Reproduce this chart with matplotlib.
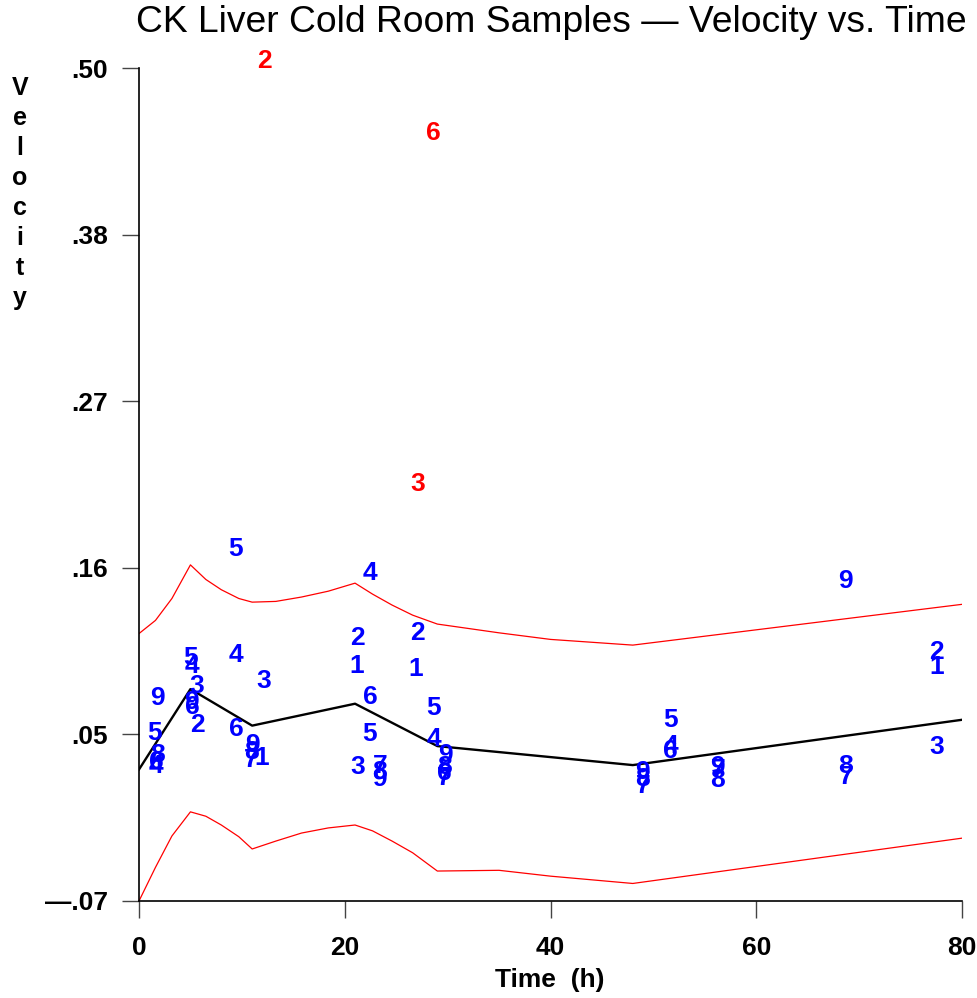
import matplotlib
matplotlib.use("Agg")
import matplotlib.pyplot as plt
import numpy as np

plt.rcParams["font.family"] = ["Liberation Sans", "DejaVu Sans"]

title = "CK Liver Cold Room Samples \u2014 Velocity vs. Time"
x_label = "Time  (h)"
y_label = "Velocity"
x_ticks = [0, 20, 40, 60, 80]
y_tick_labels = ["\u2014.07", ".05", ".16", ".27", ".38", ".50"]
y_min, y_max = -0.07, 0.50

# mean curve
mean_time = [0, 5, 11, 21, 29, 48, 80]
mean_vel = [0.020, 0.075, 0.050, 0.065, 0.036, 0.023, 0.054]

# band (red)
band_time = [0, 1.6, 3.2, 5, 6.5, 8, 9.7, 11, 13.3, 15.8, 18.4, 21, 22.7, 24.6, 26.6, 29, 35, 40, 48, 80]
band_upper = [0.113, 0.122, 0.137, 0.160, 0.150, 0.143, 0.137, 0.1345, 0.135, 0.138, 0.142, 0.1475,
              0.140, 0.1325, 0.1256, 0.1195, 0.1135, 0.109, 0.1051, 0.133]
band_lower = [-0.070, -0.047, -0.0255, -0.009, -0.012, -0.018, -0.026, -0.0344, -0.029, -0.0235, -0.020,
              -0.018, -0.022, -0.029, -0.037, -0.0495, -0.049, -0.053, -0.058, -0.027]

# observed points (subject id labels)
pt_time = [1.75, 1.55, 1.75, 1.65, 1.6,
           5.05, 5.15, 5.65, 5.1, 5.15, 5.7,
           9.43, 9.43, 12.15, 9.43, 10.98, 10.98, 10.9, 11.95,
           22.45, 21.28, 21.2, 22.45, 22.45, 21.28, 23.4, 23.4, 23.4,
           27.1, 26.9, 28.67, 28.67, 29.74, 29.74, 29.7, 29.7,
           51.7, 51.7, 51.7, 48.98, 48.98, 48.98, 56.27, 56.27, 56.27,
           68.7, 68.7, 68.7, 77.55, 77.55, 77.55]
pt_vel = [0.0689, 0.0449, 0.0299, 0.0251, 0.0223,
          0.0962, 0.0907, 0.0771, 0.0660, 0.0627, 0.0504,
          0.1708, 0.0983, 0.0805, 0.0476, 0.0367, 0.0319, 0.0264, 0.0278,
          0.1544, 0.1099, 0.0907, 0.0695, 0.0442, 0.0217, 0.0223, 0.0182, 0.0134,
          0.1133, 0.0887, 0.0620, 0.0408, 0.0299, 0.0217, 0.0176, 0.0141,
          0.0538, 0.0360, 0.0326, 0.0182, 0.0134, 0.0090,
          0.0217, 0.0196, 0.0128,
          0.1489, 0.0223, 0.0148, 0.1003, 0.0901, 0.0353]
pt_id = [9, 5, 8, 6, 4,
         5, 4, 3, 9, 6, 2,
         5, 4, 3, 6, 9, 8, 7, 1,
         4, 2, 1, 6, 5, 3, 7, 8, 9,
         2, 1, 5, 4, 9, 8, 6, 7,
         5, 4, 6, 9, 8, 7, 9, 7, 8,
         9, 8, 7, 2, 1, 3]

# flagged points (red)
out_time = [12.15, 27.1, 28.57]
out_vel = [0.505, 0.2152, 0.4553]
out_id = [2, 3, 6]

fig = plt.figure(figsize=(9.78, 9.98), dpi=100)
ax = fig.add_axes([139 / 978, 1 - 901 / 998, (962 - 139) / 978, (901 - 68) / 998])

ax.plot(band_time, band_upper, color="#ff0000", lw=0.9, zorder=2)
ax.plot(band_time, band_lower, color="#ff0000", lw=0.9, zorder=2)
ax.plot(mean_time, mean_vel, color="black", lw=1.7, zorder=3)

for t, v, i in zip(pt_time, pt_vel, pt_id):
    ax.text(t, v, str(i), color="#0000ff", fontsize=19, fontweight="bold",
            ha="center", va="center", zorder=4, clip_on=False)
for t, v, i in zip(out_time, out_vel, out_id):
    ax.text(t, v, str(i), color="#ff0000", fontsize=19, fontweight="bold",
            ha="center", va="center", zorder=4, clip_on=False)

ax.set_xlim(0, 80)
ax.set_ylim(y_min, y_max)
ax.set_xticks(x_ticks)
ax.set_xticklabels([str(x) for x in x_ticks], fontsize=19, fontweight="bold")
ax.set_yticks(np.linspace(y_min, y_max, len(y_tick_labels)))
ax.set_yticklabels(y_tick_labels, fontsize=19, fontweight="bold")
ax.tick_params(axis="x", length=12.5, width=1, color="#444444", pad=12.5)
ax.tick_params(axis="y", length=12.5, width=1, color="#444444", pad=10)
for s in ["top", "right"]:
    ax.spines[s].set_visible(False)
for s in ["left", "bottom"]:
    ax.spines[s].set_linewidth(1.2)

fig.text(550 / 978, 1 - 980 / 998, x_label, fontsize=19, fontweight="bold",
         ha="center", va="center")

fig.text(551 / 978, 1 - 22 / 998, title, fontsize=26.8, ha="center", va="center")

for k, ch in enumerate(y_label):
    fig.text(20 / 978, 1 - (95 + 30 * k) / 998, ch, fontsize=18, fontweight="bold",
             ha="center", va="baseline")

fig.savefig("out.png", dpi=100)
